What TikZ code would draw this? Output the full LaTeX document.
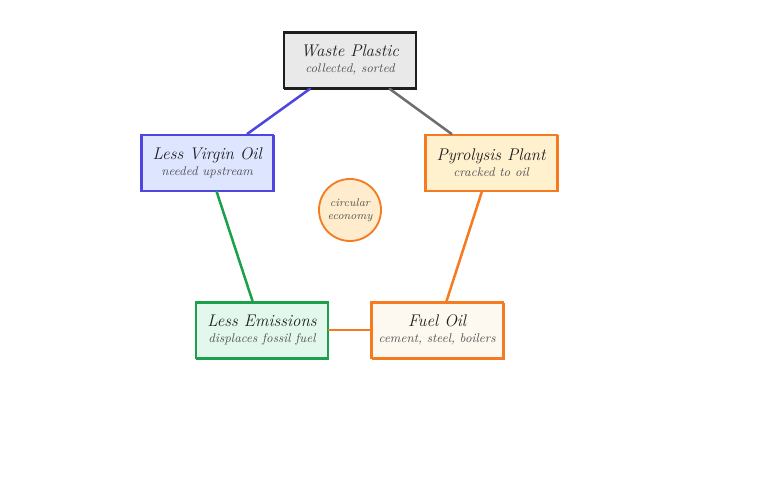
\documentclass[tikz,border=0pt]{standalone}
\usepackage{xcolor}
\usepackage{tikz}
\usetikzlibrary{positioning, shapes.geometric}
\definecolor{inkblack}{RGB}{30, 30, 30}
\definecolor{plasticfill}{RGB}{233, 233, 233}
\definecolor{oilblue}{RGB}{78, 70, 222}
\definecolor{oilbluefill}{RGB}{221, 229, 255}
\definecolor{pyroorange}{RGB}{245, 122, 32}
\definecolor{pyrofill}{RGB}{255, 240, 206}
\definecolor{emitgreen}{RGB}{28, 160, 76}
\definecolor{emitfill}{RGB}{226, 248, 236}
\definecolor{fuelfill}{RGB}{253, 249, 240}
\definecolor{loopfill}{RGB}{254, 236, 204}
\definecolor{edgegray}{RGB}{110, 110, 110}
\definecolor{subgray}{RGB}{85, 85, 85}

\begin{document}
\begin{tikzpicture}[
    stagebox/.style={draw, line width=1.3pt, minimum width=3.3cm,
      minimum height=1.4cm, align=center, inner sep=2pt,
      postaction={draw, line width=0.5pt,
        transform canvas={shift={(0.5pt,-0.7pt)}}}},
    flow/.style={line width=1.8pt, line cap=round},
  ]

  \useasboundingbox (0,0) rectangle (19.5,12.5);

  % --- stages of the loop ---
  \node[stagebox, inkblack, fill=plasticfill] (plastic) at (8.75, 11.0)
    {{\large\itshape Waste Plastic}\\[-1pt]{\small\itshape\color{subgray} collected, sorted}};
  \node[stagebox, pyroorange, fill=pyrofill] (pyro) at (12.28, 8.43)
    {{\large\itshape\color{inkblack} Pyrolysis Plant}\\[-1pt]{\small\itshape\color{subgray} cracked to oil}};
  \node[stagebox, pyroorange, fill=fuelfill] (fuel) at (10.93, 4.25)
    {{\large\itshape\color{inkblack} Fuel Oil}\\[-1pt]{\small\itshape\color{subgray} cement, steel, boilers}};
  \node[stagebox, emitgreen, fill=emitfill] (emit) at (6.55, 4.25)
    {{\large\itshape\color{inkblack} Less Emissions}\\[-1pt]{\small\itshape\color{subgray} displaces fossil fuel}};
  \node[stagebox, oilblue, fill=oilbluefill] (virgin) at (5.18, 8.43)
    {{\large\itshape\color{inkblack} Less Virgin Oil}\\[-1pt]{\small\itshape\color{subgray} needed upstream}};

  % --- centre label ---
  \node[circle, draw=pyroorange, line width=1.3pt, fill=loopfill,
    minimum size=1.55cm, inner sep=0pt, align=center,
    font=\footnotesize\itshape, text=subgray] (loop) at (8.75, 7.25)
    {circular\\economy};

  % --- connectors ---
  \draw[flow, edgegray] (plastic) -- (pyro);
  \draw[flow, pyroorange] (pyro) -- (fuel);
  \draw[flow, pyroorange, line width=1.4pt] (fuel) -- (emit);
  \draw[flow, emitgreen] (emit) -- (virgin);
  \draw[flow, oilblue] (virgin) -- (plastic);

\end{tikzpicture}
\end{document}
